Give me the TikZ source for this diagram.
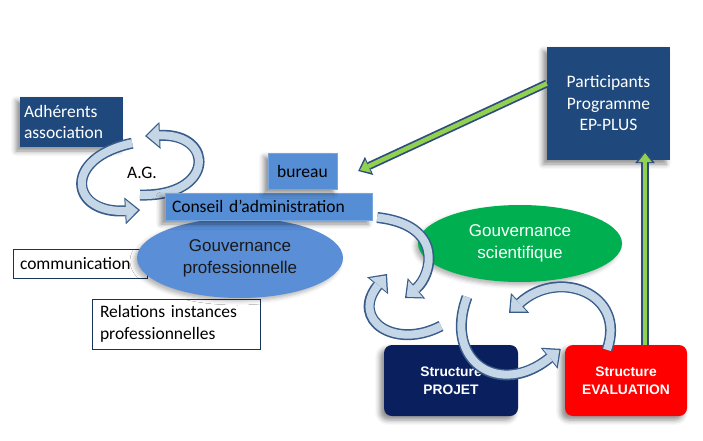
\documentclass[tikz,border=0pt]{standalone}
\usepackage{fontspec}
\setmainfont{Carlito}
\newfontfamily\arialfont{Liberation Sans}
\usetikzlibrary{shapes,arrows.meta,positioning,calc,shadows.blur}

\definecolor{darkbox}{HTML}{1F497D}
\definecolor{lightbox}{HTML}{558ED5}
\definecolor{profblue}{HTML}{5A8ED6}
\definecolor{sciGreen}{HTML}{00B050}
\definecolor{navy}{HTML}{0A1F5E}
\definecolor{evalred}{HTML}{FF0000}
\definecolor{rimblue}{HTML}{385D8A}
\definecolor{bandblue}{HTML}{C5D6E6}
\definecolor{linegreen}{HTML}{92D050}
\definecolor{greenrimblue}{HTML}{2E4C7E}

% band arrow drawn twice: rim then body
\newcommand{\bandarrow}[2]{%
  \draw[#1rim] #2;
  \draw[#1body] #2;
}

\begin{document}
\begin{tikzpicture}[x=1pt, y=1pt,
    calib/.style={font=\fontsize{17.5}{21.5}\selectfont},
    member/.style={rectangle, fill=darkbox, text=white, calib, inner sep=4pt,
        blur shadow={shadow xshift=-4pt, shadow yshift=-4pt, shadow blur radius=5pt, shadow opacity=45}},
    council/.style={rectangle, fill=lightbox, draw=lightbox!80!white, text=black, calib, inner sep=4pt,
        blur shadow={shadow xshift=-4pt, shadow yshift=-4pt, shadow blur radius=5pt, shadow opacity=45}},
    labelbox/.style={rectangle, draw=darkbox!70!black, fill=white, calib, inner xsep=7pt, inner ysep=3pt, align=left},
    govern/.style={ellipse, inner sep=0pt, align=center, font=\arialfont\fontsize{17}{22}\selectfont,
        blur shadow={shadow xshift=-3pt, shadow yshift=-3pt, shadow blur radius=4pt, shadow opacity=30}},
    structbox/.style={rectangle, rounded corners=8pt, text=white, align=center, minimum height=71pt,
        font=\arialfont\bfseries\fontsize{13.8}{17.5}\selectfont,
        blur shadow={shadow xshift=-4pt, shadow yshift=-4pt, shadow blur radius=5pt, shadow opacity=45}},
    curverim/.style={draw=rimblue, line width=11pt, -{Triangle[length=15pt,width=27pt,line width=0pt]}},
    curvebody/.style={draw=bandblue, line width=8pt, shorten >=2pt, -{Triangle[length=12pt,width=22pt,line width=0pt]}},
    greenrim/.style={draw=greenrimblue, line width=8pt, -{Triangle[length=12pt,width=20pt,line width=0pt]}},
    greenbody/.style={draw=linegreen, line width=4.5pt, shorten >=2pt, -{Triangle[length=9pt,width=14pt,line width=0pt]}}
]
    \useasboundingbox (0,0) rectangle (703,-441);

    % Side boxes
    \node[labelbox, text width=120pt, minimum height=29pt] (comm) at (80,-263.5) {communication};
    \node[labelbox, text width=152pt, inner xsep=8pt, minimum height=50pt] (rel) at (176,-324) {Relations instances\\professionnelles};

    % Gouvernance professionnelle
    \node[govern, fill=profblue, text=black!90, minimum width=206pt, minimum height=80pt] (gprof) at (240,-258) {Gouvernance\\professionnelle};

    % Members
    \node[member, text width=95pt, minimum height=50pt, align=left] (adh) at (71.5,-122) {Adhérents\\association};
    \node[member, text width=115pt, minimum height=113pt, align=center] (part) at (608.5,-103.5) {Participants\\Programme\\EP-PLUS};

    % A.G. loop
    \node[calib] (ag) at (142,-173) {A.G.};
    \bandarrow{curve}{(140,-195) .. controls (215,-197) and (215,-133) .. (145,-136)}
    \bandarrow{curve}{([xshift=9pt,yshift=4pt]adh.south east) .. controls (62,-158) and (70,-214) .. (140,-210)}

    % Council
    \node[council, text width=193pt, inner xsep=7pt, minimum height=27pt, align=left] (conseil) at (268.5,-206.5) {Conseil d’administration};
    \node[council, minimum width=69pt, minimum height=36pt] (bureau) at (302.5,-171) {bureau};

    % Gouvernance scientifique
    \node[govern, fill=sciGreen, text=white, minimum width=204pt, minimum height=77pt] (gsci) at (520,-243.5) {Gouvernance\\scientifique};

    % Structures
    \node[structbox, fill=navy, minimum width=134pt] (projet) at (451,-380.5) {Structure\\PROJET};
    \node[structbox, fill=evalred, minimum width=122pt] (eval) at (626,-380.5) {Structure\\EVALUATION};

    % Cycle arrows
    \bandarrow{curve}{([xshift=5pt,yshift=-11pt]conseil.east) .. controls (445,-225) and (432,-275) .. (405,-298)}
    \bandarrow{curve}{(441,-326) .. controls (395,-350) and (350,-320) .. (387,-274)}
    \bandarrow{curve}{(467,-297) .. controls (443,-362) and (500,-398) .. ([xshift=-4pt,yshift=-4pt]eval.north west)}
    \bandarrow{curve}{([xshift=-19pt,yshift=-5pt]eval.north) .. controls (627,-293) and (558,-268) .. (509,-313)}

    % EP-PLUS links
    \bandarrow{green}{([yshift=20pt]part.west) -- ([xshift=21pt]bureau.east)}
    \bandarrow{green}{([xshift=19pt]eval.north) -- ($(eval.north |- part.south)+(19,9)$)}
\end{tikzpicture}
\end{document}
